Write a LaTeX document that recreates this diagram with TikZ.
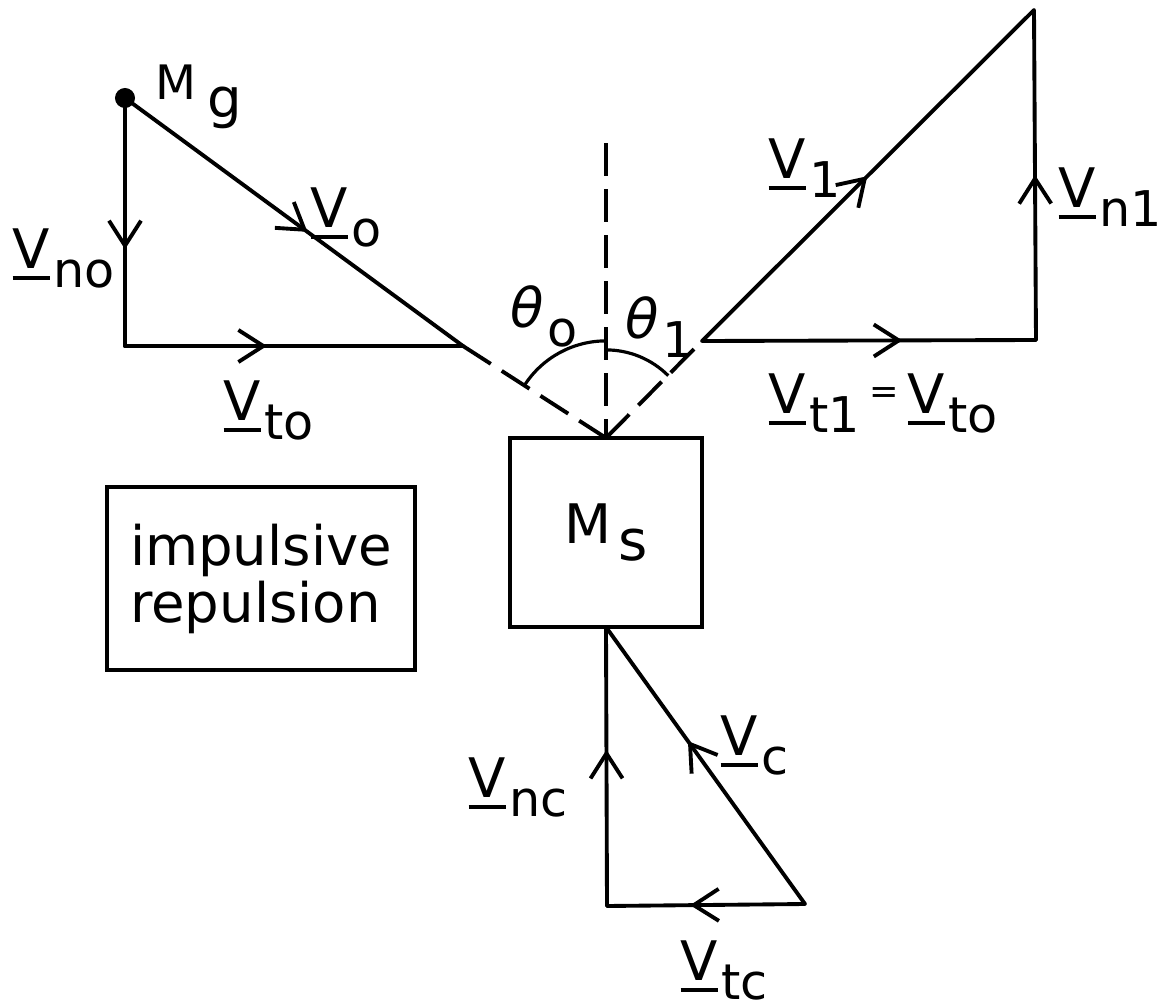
\documentclass[tikz,border=0pt]{standalone}
\usepackage{fontspec}
\setmainfont{DejaVu Sans}
\usetikzlibrary{arrows.meta,decorations.markings}
\newcommand{\uV}{\setbox0\hbox{V}\rlap{\rule[-3.4pt]{\wd0}{1.1pt}}\box0}
\newcommand{\lsub}[1]{\kern1pt\raisebox{-5.5pt}{\fontsize{14}{14}\selectfont #1}}

\begin{document}
\begin{tikzpicture}[
  x=0.01cm, y=0.01cm,
  font=\fontsize{15.5}{16}\selectfont,
  vecln/.style={line width=1.1pt, line cap=round},
  dashln/.style={line width=1.1pt, dash pattern=on 3.3mm off 1.3mm},
  lbl/.style={anchor=base west, inner sep=0pt},
  boxnode/.style={draw, line width=1.1pt, inner sep=0pt, outer sep=0pt},
  midtip/.style={postaction={decorate}, decoration={markings, mark=at position #1 with {\arrow{Straight Barb[length=2.5mm, width=3.2mm]}}}},
]
\useasboundingbox (0,0) rectangle (1166,-1006);
% points of the three triangles
\coordinate (mg) at (125,-98);
\coordinate (a0) at (125,-346);
\coordinate (b0) at (463,-346);
\coordinate (top) at (606,-143);
\coordinate (b1) at (702,-341);
\coordinate (c1) at (1034,-10);
\coordinate (d1) at (1036,-340);
\coordinate (ec) at (607,-906);
\coordinate (fc) at (805,-904);
% boxes
\node[boxnode, minimum width=1.92cm, minimum height=1.89cm] (ms) at (606,-532.5) {M\kern2pt\raisebox{-4.8pt}{\fontsize{16}{16}\selectfont s}};
\node[boxnode, minimum width=3.08cm, minimum height=1.83cm, align=left, font=\fontsize{15.5}{16.2}\selectfont] (imp) at (261,-578.5) {impulsive\\repulsion};
% incoming
\draw[vecln, midtip=0.61] (mg) -- (a0);
\draw[vecln, midtip=0.42] (a0) -- (b0);
\draw[vecln, midtip=0.54] (mg) -- (b0);
\node[circle, fill, inner sep=0pt, minimum size=2mm] (dot) at (mg) {};
% normal and dashed lines
\draw[dashln] (b0) -- (ms.north);
\draw[dashln] (top) -- (ms.north);
\draw[dashln] (ms.north) -- (b1);
\draw[line width=0.9pt] (ms.north) ++(147:9.7mm) arc[start angle=147, end angle=90, radius=9.7mm];
\draw[line width=0.9pt] (ms.north) ++(90:8.8mm) arc[start angle=90, end angle=45, radius=8.8mm];
% outgoing
\draw[vecln, midtip=0.5] (b1) -- (c1);
\draw[vecln, midtip=0.5] (d1) -- (c1);
\draw[vecln, midtip=0.6] (b1) -- (d1);
% below the box
\draw[vecln, midtip=0.56] (ec) -- (ms.south);
\draw[vecln, midtip=0.59] (fc) -- (ms.south);
\draw[vecln, midtip=0.58] (fc) -- (ec);
% labels
\node[lbl] (lmg) at (155,-100) {\fontsize{13.5}{13.5}\selectfont M\kern3pt\raisebox{-5pt}{\fontsize{15.5}{15.5}\selectfont g}};
\node[lbl] (lno) at (12,-268) {\uV\lsub{no}};
\node[lbl] (lo) at (310,-227) {\uV\lsub{o}};
\node[lbl] (lto) at (223,-420) {\uV\lsub{to}};
\node[lbl] (lth0) at (510,-327) {\textit{θ}\lsub{o}};
\node[lbl] (lth1) at (625,-338) {\textit{θ}\lsub{1}};
\node[lbl] (l1) at (768,-178) {\uV\lsub{1}};
\node[lbl] (ln1) at (1058,-207) {\uV\lsub{n1}};
\node[lbl] (lt1) at (768,-413) {\uV\lsub{t1}\,\raisebox{2.8pt}{\fontsize{10}{10}\selectfont =}\,\uV\lsub{to}};
\node[lbl] (lnc) at (468,-797) {\uV\lsub{nc}};
\node[lbl] (lc) at (720,-755) {\uV\lsub{c}};
\node[lbl] (ltc) at (680,-980) {\uV\lsub{tc}};
\end{tikzpicture}
\end{document}
